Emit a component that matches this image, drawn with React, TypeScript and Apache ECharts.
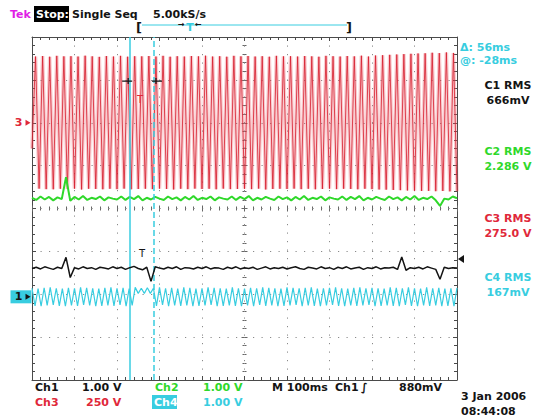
import { useEffect, useRef } from "react";
import * as echarts from "echarts";

// ---- screen settings (10 x 100 ms horizontal, 8 vertical divisions) ----
const X_MIN = 0;
const X_MAX = 1000;
const X_DIV = 100;
const Y_MIN = -4;
const Y_MAX = 4;

// channel scale (units / div) and position (div)
const CH1_SCALE = 1.0;
const CH1_POS = -2.06;
const CH2_SCALE = 1.0;
const CH2_POS = -2.06;
const CH3_SCALE = 250;
const CH3_POS = 2.0;
const CH4_SCALE = 1.0;
const CH4_POS = -2.06;

const TRIGGER_LEVEL_V = 0.88;
const TRIGGER_T_MS = 259;
const CURSOR1_MS = 231;
const CURSOR2_MS = 287;
const CURSOR_READ_V = 243; // ch3 value at cursor readouts
const CH3_T_MARK_MS = 254;
const CH3_T_MARK_V = 133;

// sample intervals (ms)
const CH3_DT = 1000 / 120;
const CH4_DT = 1000 / 140;
const CH1_DT = 10;
const CH2_DT = 10;

// Ch3 (V): successive extremes of the 60 Hz waveform
const ch3Values = [
  -150, 386, -384, 389, -387, 385, -388, 390, -385, 387, -386,
  388, -384, 386, -389, 391, -385, 387, -386, 384, -388,
  389, -385, 386, -387, 390, -384, 385, -388, 388, -386,
  387, -385, 389, -387, 386, -384, 390, -386, 385, -389,
  388, -385, 386, -387, 389, -384, 387, -386, 391, -385,
  386, -388, 388, -384, 385, -387, 390, -386, 387, -385,
  389, -387, 386, -384, 388, -389, 385, -386, 390, -385,
  387, -386, 388, -384, 386, -387, 389, -385, 387, -388,
  385, -386, 390, -384, 388, -387, 386, -385, 389, -386,
  387, -388, 391, -385, 386, -387, 392, -389, 394, -390,
  396, -392, 398, -393, 400, -395, 402, -396, 404, -398,
  405, -397, 408, -399, 406, -398, 410, -400, 407, -399,
];

// Ch4 (V)
const ch4Values = [
  0.2, -0.21, 0.19, -0.22, 0.21, -0.2, 0.22, -0.19, 0.2, -0.21,
  0.19, -0.22, 0.21, -0.2, 0.2, -0.21, 0.22, -0.19, 0.21, -0.2,
  0.2, -0.22, 0.19, -0.21, 0.21, -0.2, 0.22, -0.21, 0.2, -0.19,
  0.21, -0.22, 0.19, -0.2, 0.22, 0.08, 0.2, 0.08, 0.21, 0.08,
  0.2, -0.21, 0.22, -0.19, 0.2, -0.22, 0.21, -0.2, 0.19, -0.21,
  0.22, -0.2, 0.21, -0.22, 0.19, -0.21, 0.2, -0.2, 0.22, -0.19,
  0.21, -0.22, 0.2, -0.21, 0.19, -0.2, 0.22, -0.21, 0.2, -0.22,
  0.19, -0.2, 0.21, -0.22, 0.2, -0.19, 0.22, -0.21, 0.21, -0.2,
  0.2, -0.22, 0.19, -0.21, 0.22, -0.2, 0.21, -0.19, 0.2, -0.22,
  0.21, -0.2, 0.22, -0.21, 0.19, -0.22, 0.2, -0.2, 0.21, -0.19,
  0.22, -0.21, 0.2, -0.22, 0.19, -0.2, 0.21, -0.21, 0.22, -0.2,
  0.2, -0.19, 0.21, -0.22, 0.2, -0.21, 0.19, -0.2, 0.22, -0.21,
  0.21, -0.22, 0.2, -0.19, 0.22, -0.21, 0.2, -0.22, 0.19, -0.2,
  0.22, -0.21, 0.2, -0.2, 0.21, -0.22, 0.19, -0.21, 0.2, -0.22,
  0.21,
];

// Ch1 (V)
const ch1Values = [
  0.66, 0.69, 0.65, 0.7, 0.67, 0.64, 0.69, 0.66, 0.92, 0.45,
  0.68, 0.65, 0.7, 0.66, 0.68, 0.64, 0.69, 0.67, 0.65, 0.7,
  0.66, 0.69, 0.64, 0.68, 0.71, 0.66, 0.63, 0.69, 0.36, 0.7,
  0.67, 0.65, 0.69, 0.66, 0.7, 0.64, 0.68, 0.67, 0.65, 0.69,
  0.66, 0.7, 0.65, 0.68, 0.67, 0.64, 0.69, 0.66, 0.7, 0.65,
  0.68, 0.66, 0.69, 0.64, 0.67, 0.7, 0.65, 0.68, 0.66, 0.69,
  0.65, 0.68, 0.7, 0.66, 0.64, 0.69, 0.67, 0.65, 0.7, 0.66,
  0.68, 0.64, 0.69, 0.66, 0.7, 0.65, 0.67, 0.69, 0.64, 0.68,
  0.66, 0.7, 0.65, 0.68, 0.67, 0.69, 0.64, 0.93, 0.62, 0.68,
  0.66, 0.69, 0.65, 0.7, 0.67, 0.64, 0.41, 0.69, 0.66, 0.68,
  0.67,
];

// Ch2 (V)
const ch2Values = [
  2.31, 2.26, 2.34, 2.27, 2.33, 2.25, 2.32, 2.28, 2.79, 2.24,
  2.33, 2.27, 2.35, 2.26, 2.31, 2.28, 2.34, 2.25, 2.32, 2.29,
  2.27, 2.34, 2.26, 2.33, 2.28, 2.35, 2.25, 2.31, 2.27, 2.33,
  2.29, 2.26, 2.34, 2.28, 2.32, 2.25, 2.33, 2.27, 2.35, 2.26,
  2.31, 2.28, 2.34, 2.25, 2.32, 2.29, 2.27, 2.34, 2.26, 2.33,
  2.28, 2.35, 2.25, 2.31, 2.27, 2.33, 2.29, 2.26, 2.34, 2.28,
  2.32, 2.25, 2.33, 2.27, 2.35, 2.26, 2.31, 2.28, 2.34, 2.25,
  2.32, 2.29, 2.27, 2.34, 2.26, 2.33, 2.28, 2.35, 2.25, 2.31,
  2.27, 2.33, 2.29, 2.26, 2.34, 2.28, 2.32, 2.25, 2.33, 2.27,
  2.35, 2.26, 2.31, 2.28, 2.34, 2.25, 2.12, 2.29, 2.27, 2.34,
  2.3,
];

// ---- texts ----
const headerTexts = ["Tek", "Stop:", "Single Seq", "5.00kS/s"];
const cursorTexts = ["\u0394: 56ms", "@: -28ms"];
const measNames = ["C1 RMS", "C2 RMS", "C3 RMS", "C4 RMS"];
const measValues = ["666mV", "2.286 V", "275.0 V", "167mV"];
const bottomRow1 = ["Ch1", "1.00 V", "Ch2", "1.00 V", "M 100ms", "Ch1", "\u222B", "880mV"];
const bottomRow2 = ["Ch3", "250 V", "Ch4", "1.00 V"];
const dateTexts = ["3 Jan 2006", "08:44:08"];

const RED = "#e0283a";
const RED_LINE = "rgba(214,28,44,0.8)";
const PINK = "rgba(236,96,110,0.32)";
const GREEN = "#2fd82a";
const CYAN = "#38cde0";
const BLACK = "#141414";
const MAGENTA = "#e01ee6";
const FRAME = "#4a4a4a";
const FONT = 'bold 11px "DejaVu Sans"';

const toDiv = (pos: number, scale: number, v: number) => pos + v / scale;

function borderAxis(isX: boolean, position: string, split: boolean) {
  return {
    type: "value",
    position,
    min: isX ? X_MIN : Y_MIN,
    max: isX ? X_MAX : Y_MAX,
    interval: isX ? X_DIV : 1,
    axisLine: { show: true, onZero: false, lineStyle: { color: FRAME, width: 1 } },
    axisTick: { show: true, inside: true, length: 4, lineStyle: { color: FRAME } },
    minorTick: { show: true, splitNumber: 5, length: 3, lineStyle: { color: FRAME } },
    axisLabel: { show: false },
    splitLine: { show: split, lineStyle: { color: "#8a8a8a", width: 1, type: [1.2, 7.3] } },
    minorSplitLine: { show: false },
  };
}
function centerAxis(isX: boolean, inside: boolean) {
  return {
    type: "value",
    position: isX ? "bottom" : "left",
    offset: isX ? -171.5 : -212.5,
    min: isX ? X_MIN : Y_MIN,
    max: isX ? X_MAX : Y_MAX,
    interval: isX ? X_DIV : 1,
    axisLine: { show: false, onZero: false },
    axisTick: { show: true, inside, length: 3, lineStyle: { color: "#666" } },
    minorTick: { show: true, splitNumber: 5, length: 2, lineStyle: { color: "#666" } },
    axisLabel: { show: false },
    splitLine: { show: false },
  };
}

function lineSeries(name: string, data: number[][], color: string, width: number, z: number, extra: any = {}) {
  return {
    name,
    type: "line",
    data,
    xAxisIndex: 0,
    yAxisIndex: 0,
    showSymbol: false,
    symbol: "none",
    clip: true,
    silent: true,
    z,
    lineStyle: { color, width },
    ...extra,
  };
}

function txt(text: string, x: number, y: number, fill: string, align = "left", font = FONT) {
  return {
    type: "text",
    silent: true,
    style: { text, x, y, fill, font, textAlign: align, textVerticalAlign: "middle" },
  };
}

export default function App() {
  const ref = useRef<HTMLDivElement>(null);
  useEffect(() => {
    if (!ref.current) return;
    const chart = echarts.init(ref.current, null, { renderer: "svg" });

    const ch3Data = ch3Values.map((v, i) => [i * CH3_DT, toDiv(CH3_POS, CH3_SCALE, v)]);
    const ch4Data = ch4Values.map((v, i) => [i * CH4_DT, toDiv(CH4_POS, CH4_SCALE, v)]);
    const ch1Data = ch1Values.map((v, i) => [i * CH1_DT, toDiv(CH1_POS, CH1_SCALE, v)]);
    const ch2Data = ch2Values.map((v, i) => [i * CH2_DT, toDiv(CH2_POS, CH2_SCALE, v)]);

    const trigDiv = toDiv(CH1_POS, CH1_SCALE, TRIGGER_LEVEL_V);
    const cursorDiv = toDiv(CH3_POS, CH3_SCALE, CURSOR_READ_V);

    const markerLabel = (t: string, color: string) => ({
      show: true,
      formatter: t,
      position: "left",
      distance: 3,
      color,
      fontWeight: "bold",
      fontSize: 11,
      fontFamily: "DejaVu Sans",
    });

    const option: any = {
      animation: false,
      backgroundColor: "#ffffff",
      grid: { left: 32, top: 37, width: 425, height: 343, containLabel: false },
      xAxis: [
        borderAxis(true, "bottom", true),
        borderAxis(true, "top", false),
        centerAxis(true, true),
        centerAxis(true, false),
      ],
      yAxis: [
        borderAxis(false, "left", true),
        borderAxis(false, "right", false),
        centerAxis(false, true),
        centerAxis(false, false),
      ],
      series: [
        lineSeries("Ch3 glow", ch3Data, PINK, 3.6, 2),
        lineSeries("Ch3", ch3Data, RED_LINE, 1, 3, {
          markPoint: {
            silent: true,
            data: [
              {
                coord: [X_MIN, CH3_POS],
                symbol: "triangle",
                symbolRotate: -90,
                symbolSize: [6, 5],
                symbolOffset: [-4, 0],
                itemStyle: { color: RED },
                label: markerLabel("3", RED),
              },
              {
                coord: [CH3_T_MARK_MS, toDiv(CH3_POS, CH3_SCALE, CH3_T_MARK_V)],
                symbol: "rect",
                symbolSize: 1,
                itemStyle: { color: "rgba(0,0,0,0)" },
                label: { show: true, formatter: "T", position: "inside", color: RED, fontSize: 10, fontFamily: "DejaVu Sans" },
              },
            ],
          },
        }),
        lineSeries("Ch2", ch2Data, GREEN, 2, 4),
        lineSeries("Ch4", ch4Data, CYAN, 1.2, 5, {
          markPoint: {
            silent: true,
            data: [
              {
                coord: [X_MIN, CH4_POS],
                symbol: "rect",
                symbolSize: [21, 13],
                symbolOffset: [-11, 0],
                itemStyle: { color: CYAN },
                label: { show: false },
              },
            ],
          },
        }),
        lineSeries("Ch1", ch1Data, BLACK, 1.5, 6, {
          markPoint: {
            silent: true,
            data: [
              {
                coord: [X_MIN, CH1_POS],
                symbol: "triangle",
                symbolRotate: -90,
                symbolSize: [6, 5],
                symbolOffset: [-4, 0],
                itemStyle: { color: BLACK },
                label: markerLabel("1", BLACK),
              },
              {
                coord: [X_MAX, trigDiv],
                symbol: "triangle",
                symbolRotate: 90,
                symbolSize: [8, 6],
                symbolOffset: [4, 0],
                itemStyle: { color: BLACK },
                label: { show: false },
              },
              {
                coord: [TRIGGER_T_MS, trigDiv],
                symbol: "rect",
                symbolSize: 1,
                symbolOffset: [0, -6],
                itemStyle: { color: "rgba(0,0,0,0)" },
                label: { show: true, formatter: "T", position: "inside", color: BLACK, fontSize: 10, fontFamily: "DejaVu Sans" },
              },
            ],
          },
        }),
        {
          name: "cursors",
          type: "line",
          data: [],
          xAxisIndex: 0,
          yAxisIndex: 0,
          z: 7,
          silent: true,
          markLine: {
            silent: true,
            symbol: "none",
            label: { show: false },
            data: [
              { xAxis: CURSOR1_MS, lineStyle: { color: CYAN, width: 1.5, type: "solid" } },
              { xAxis: CURSOR2_MS, lineStyle: { color: CYAN, width: 1.5, type: [6, 3] } },
            ],
          },
          markPoint: {
            silent: true,
            data: [
              {
                coord: [CURSOR1_MS, cursorDiv],
                symbol: "path://M0,2.4H10V3.6H0Z M5.4,0H6.6V6H5.4Z",
                symbolSize: [10, 6],
                symbolOffset: [-3, 0],
                itemStyle: { color: BLACK },
                label: { show: false },
              },
              {
                coord: [CURSOR2_MS, cursorDiv],
                symbol: "path://M0,2.4H10V3.6H0Z M3.4,0H4.6V6H3.4Z",
                symbolSize: [10, 6],
                symbolOffset: [3, 0],
                itemStyle: { color: BLACK },
                label: { show: false },
              },
            ],
          },
        },
      ],
      graphic: [
        // header
        txt(headerTexts[0], 10, 14, MAGENTA),
        { type: "rect", silent: true, shape: { x: 34, y: 6, width: 35, height: 16 }, style: { fill: "#000" } },
        txt(headerTexts[1], 36, 14, "#fff"),
        txt(headerTexts[2], 72, 14, BLACK),
        txt(headerTexts[3], 153, 14, BLACK),
        // record bracket
        txt("[", 136, 27, BLACK, "left", 'bold 13px "DejaVu Sans"'),
        { type: "line", silent: true, shape: { x1: 142, y1: 25, x2: 347, y2: 25 }, style: { stroke: CYAN, lineWidth: 1 } },
        txt("]", 346, 27, BLACK, "left", 'bold 13px "DejaVu Sans"'),
        txt("\u2192", 178, 24, BLACK, "left", 'bold 8px "DejaVu Sans"'),
        txt("T", 190, 27, CYAN, "center", 'bold 11px "DejaVu Sans"'),
        txt("\u2190", 195, 24, BLACK, "left", 'bold 8px "DejaVu Sans"'),
        // cursor readouts
        txt(cursorTexts[0], 460, 47, CYAN),
        txt(cursorTexts[1], 460, 60, CYAN),
        // measurements
        txt(measNames[0], 508, 85, BLACK, "center"),
        txt(measValues[0], 508, 100, BLACK, "center"),
        txt(measNames[1], 508, 151, GREEN, "center"),
        txt(measValues[1], 508, 166, GREEN, "center"),
        txt(measNames[2], 508, 218, RED, "center"),
        txt(measValues[2], 508, 233, RED, "center"),
        txt(measNames[3], 508, 277, CYAN, "center"),
        txt(measValues[3], 508, 292, CYAN, "center"),
        // bottom row 1
        txt(bottomRow1[0], 35, 387, BLACK),
        txt(bottomRow1[1], 82, 387, BLACK),
        txt(bottomRow1[2], 155, 387, GREEN),
        txt(bottomRow1[3], 203, 387, GREEN),
        txt(bottomRow1[4], 272, 387, BLACK),
        txt(bottomRow1[5], 335, 387, BLACK),
        txt(bottomRow1[6], 361, 387, BLACK),
        txt(bottomRow1[7], 399, 387, BLACK),
        // bottom row 2
        txt(bottomRow2[0], 35, 402, RED),
        txt(bottomRow2[1], 86, 402, RED),
        { type: "rect", silent: true, shape: { x: 152, y: 395, width: 25, height: 14 }, style: { fill: CYAN } },
        txt(bottomRow2[2], 154, 402, "#fff"),
        txt(bottomRow2[3], 203, 402, CYAN),
        // date / time
        txt(dateTexts[0], 461, 396, BLACK),
        txt(dateTexts[1], 461, 411, BLACK),
      ],
    };

    chart.setOption(option);
    return () => chart.dispose();
  }, []);

  return (
    <div
      ref={ref}
      style={{ position: "fixed", left: 0, top: 0, width: 538, height: 417, background: "#fff" }}
    />
  );
}
